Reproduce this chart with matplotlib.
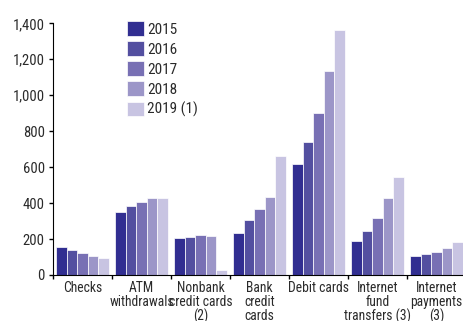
import numpy as np
import matplotlib
matplotlib.use("Agg")
import matplotlib.pyplot as plt
from matplotlib import font_manager

names = set(f.name for f in font_manager.fontManager.ttflist)
fam = "DejaVu Sans"
for cand in ["Roboto Condensed", "Open Sans Condensed", "PT Sans Narrow", "Liberation Sans Narrow"]:
    if cand in names:
        fam = cand
        break
plt.rcParams["font.family"] = [fam, "DejaVu Sans"]

categories = ["Checks", "ATM\nwithdrawals", "Nonbank\ncredit cards\n(2)",
              "Bank\ncredit\ncards", "Debit cards", "Internet\nfund\ntransfers (3)",
              "Internet\npayments\n(3)"]
years = ["2015", "2016", "2017", "2018", "2019 (1)"]
v2015 = [154, 352, 204, 232, 616, 191, 104]
v2016 = [139, 382, 210, 304, 738, 246, 115]
v2017 = [121, 408, 221, 365, 899, 319, 126]
v2018 = [107, 428, 219, 434, 1136, 428, 150]
v2019 = [96, 428, 28, 664, 1361, 547, 182]
colors = ["#312e91", "#534fa0", "#7870b4", "#9c96c8", "#c8c4e2"]

def main():
    fig = plt.figure(figsize=(4.64, 3.21), dpi=100)
    ax = fig.add_axes([53/464, 46/321, 413/464, 251.7/321])

    x = np.arange(len(categories))
    w = 0.18
    series = [v2015, v2016, v2017, v2018, v2019]
    for i, vals in enumerate(series):
        ax.bar(x + (i - 2)*w, vals, w, color=colors[i], edgecolor="white",
               linewidth=0.5, label=years[i])

    ax.set_xlim(-0.5, len(categories) - 0.5)
    ax.set_ylim(0, 1400)
    ax.set_yticks(range(0, 1401, 200))
    ax.set_yticklabels(["{:,}".format(v) for v in range(0, 1401, 200)])
    ax.set_xticks(x)
    ax.set_xticklabels(categories, linespacing=1.0, color="#2a2a2a")
    ax.set_xticks(np.arange(len(categories) + 1) - 0.5, minor=True)
    ax.tick_params(axis="x", which="major", length=0, labelsize=9.8, pad=4)
    ax.tick_params(axis="x", which="minor", length=3, width=1)
    ax.tick_params(axis="y", length=3, width=1, labelsize=10.5, pad=3,
                   labelcolor="#2a2a2a")
    for s in ["top", "right"]:
        ax.spines[s].set_visible(False)

    leg = ax.legend(loc="upper left", bbox_to_anchor=(0.165, 1.033), frameon=False,
                    fontsize=11, handlelength=1.1, handleheight=1.1,
                    handletextpad=0.2, labelspacing=0.3, borderaxespad=0)
    for t in leg.get_texts():
        t.set_color("#2a2a2a")

    fig.savefig("out.png", dpi=100)

if __name__ == "__main__": main()
